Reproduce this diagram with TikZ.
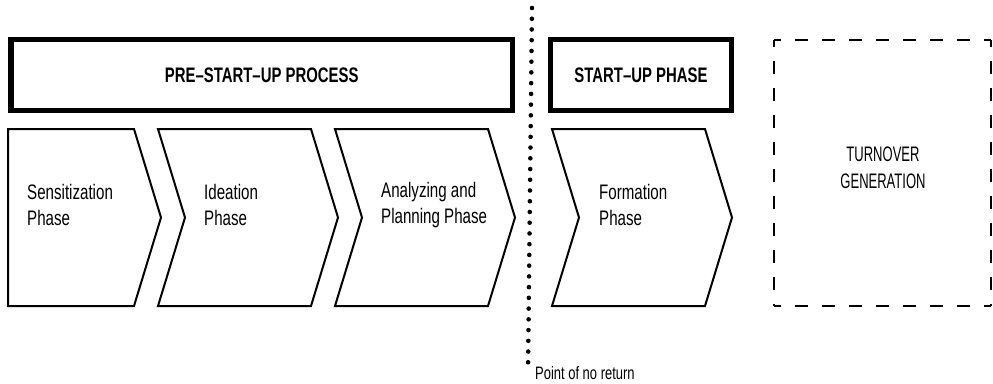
\documentclass[tikz,border=0pt]{standalone}
\usepackage{fontspec}
\setmainfont{Liberation Sans}[FakeStretch=0.72]
\newfontfamily\headfont{Liberation Sans}[FakeStretch=0.71]
\newfontfamily\capsfont{Liberation Sans}[FakeStretch=0.62]
\begin{document}
\begin{tikzpicture}[x=1pt,y=-1pt,
  phasebox/.style={draw=black, line width=5.5pt, fill=white, inner sep=0pt,
    font=\headfont\bfseries\fontsize{21}{24}\selectfont},
  chevron/.style={draw=black, line width=2pt, line join=miter},
  phasetext/.style={anchor=west, align=left, inner sep=0pt,
    font=\fontsize{21}{26}\selectfont},
  outlook/.style={line width=2.5pt, dash pattern=on 13pt off 14pt, dash phase=6pt},
  dotline/.style={line width=4.6pt, line cap=round, dash pattern=on 0pt off 10.736pt}
]
\useasboundingbox (0,0) rectangle (993,383);

% Upper bars naming the two stages
\node[phasebox, minimum width=501.5pt, minimum height=71pt] (pre) at (261.75,75) {PRE–START–UP PROCESS};
\node[phasebox, minimum width=181pt, minimum height=71pt] (startup) at (641,75) {START–UP PHASE};

% Chevrons of the individual phases
\draw[chevron] (8,129) -- (134,129) -- (161,217.5) -- (134,306) -- (8,306) -- cycle;
\draw[chevron] (158,129) -- (311,129) -- (338,217.5) -- (311,306) -- (158,306) -- (185,217.5) -- cycle;
\draw[chevron] (335,129) -- (488,129) -- (515,217.5) -- (488,306) -- (335,306) -- (362,217.5) -- cycle;
\draw[chevron] (552,129) -- (705,129) -- (732,217.5) -- (705,306) -- (552,306) -- (579,217.5) -- cycle;

\node[phasetext] (sens) at (27,205) {Sensitization\\Phase};
\node[phasetext] (idea) at (204,205) {Ideation\\Phase};
\node[phasetext] (plan) at (381,205) {Analyzing and\\Planning Phase};
\node[phasetext] (form) at (599,205) {Formation\\Phase};

% Dashed frame for the later stage
\node[minimum width=217pt, minimum height=266pt, inner sep=0pt] (turn) at (882.5,173) {};
\draw[outlook] (turn.north west) -- (turn.north east);
\draw[outlook] (turn.north east) -- (turn.south east);
\draw[outlook] (turn.north west) -- (turn.south west);
\draw[outlook] (turn.south west) -- (turn.south east);
\node[align=center, inner sep=0pt, font=\capsfont\fontsize{21}{27}\selectfont] (turnlabel) at (883,168) {TURNOVER\\GENERATION};

% Point of no return
\coordinate (ptop) at (532,8);
\coordinate (pbot) at (528,373);
\draw[dotline] (ptop) -- (pbot);
\node[anchor=west, inner sep=0pt, font=\fontsize{18}{20}\selectfont] (ponr) at (535,373) {Point of no return};
\end{tikzpicture}
\end{document}
